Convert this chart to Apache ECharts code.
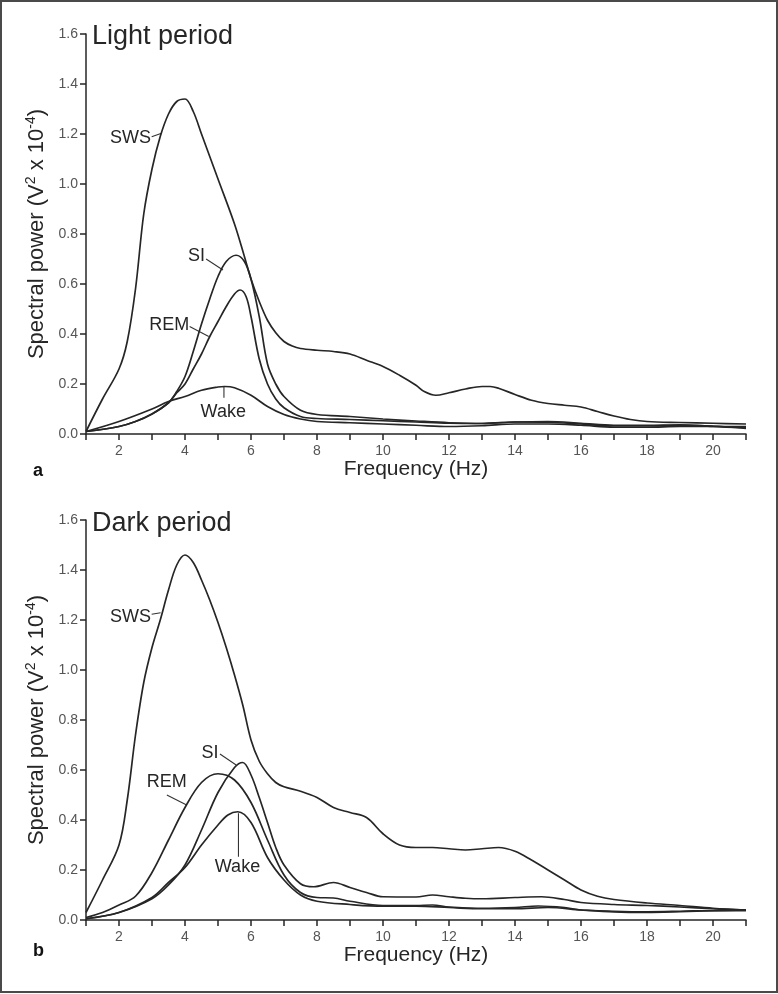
<!DOCTYPE html>
<html><head><meta charset="utf-8">
<script src="https://cdn.jsdelivr.net/npm/echarts/dist/echarts.min.js"></script>
<style>html,body{margin:0;padding:0;background:#fff}#c{width:778px;height:994px}</style>
</head><body><div id="c"></div>
<script>
// ---------- DATA (frequency in Hz, spectral power in V^2 x 10^-4) ----------
const xTicksShown = [2, 4, 6, 8, 10, 12, 14, 16, 18, 20];
const yTicks = [0.0, 0.2, 0.4, 0.6, 0.8, 1.0, 1.2, 1.4, 1.6];
const panelTitles = ['Light period', 'Dark period'];
const panelLetters = ['a', 'b'];
const stateNames = ['SWS', 'SI', 'REM', 'Wake'];

// Light period
const lightSWS_x = [1, 1.5, 2, 2.25, 2.5, 2.75, 3, 3.25, 3.5, 3.75, 4, 4.25, 4.5, 4.75, 5, 5.5, 5.8, 6, 6.25, 6.5, 6.75, 7, 7.25, 7.5, 8, 8.5, 9, 9.5, 10, 10.5, 11, 11.25, 11.6, 12, 12.5, 13, 13.25, 13.5, 14, 14.5, 15, 15.5, 16, 16.5, 17, 17.5, 18, 19, 20, 21];
const lightSWS_y = [0.01, 0.14, 0.26, 0.37, 0.58, 0.88, 1.06, 1.19, 1.28, 1.33, 1.34, 1.29, 1.2, 1.11, 1.02, 0.84, 0.71, 0.62, 0.53, 0.455, 0.405, 0.37, 0.352, 0.342, 0.335, 0.33, 0.32, 0.295, 0.27, 0.235, 0.195, 0.17, 0.155, 0.165, 0.18, 0.19, 0.19, 0.183, 0.158, 0.135, 0.122, 0.115, 0.108, 0.09, 0.072, 0.058, 0.05, 0.046, 0.043, 0.04];
const lightSI_x = [1, 2, 2.5, 3, 3.5, 3.75, 4, 4.25, 4.5, 4.75, 5, 5.25, 5.55, 5.8, 6, 6.25, 6.5, 6.75, 7, 7.5, 8, 9, 10, 11, 12, 13, 14, 15, 16, 17, 18, 19, 20, 21];
const lightSI_y = [0.01, 0.03, 0.05, 0.08, 0.125, 0.17, 0.23, 0.33, 0.44, 0.54, 0.63, 0.69, 0.715, 0.69, 0.62, 0.47, 0.28, 0.2, 0.15, 0.095, 0.078, 0.07, 0.06, 0.052, 0.045, 0.042, 0.048, 0.047, 0.04, 0.032, 0.032, 0.035, 0.032, 0.022];
const lightREM_x = [1, 2, 2.5, 3, 3.5, 3.75, 4, 4.25, 4.5, 4.75, 5, 5.25, 5.5, 5.67, 5.85, 6, 6.25, 6.5, 6.75, 7, 7.5, 8, 9, 10, 11, 12, 13, 14, 15, 16, 17, 18, 19, 20, 21];
const lightREM_y = [0.01, 0.03, 0.05, 0.08, 0.125, 0.165, 0.2, 0.26, 0.32, 0.39, 0.45, 0.51, 0.56, 0.576, 0.55, 0.47, 0.3, 0.2, 0.14, 0.105, 0.07, 0.062, 0.058, 0.053, 0.048, 0.043, 0.042, 0.048, 0.05, 0.043, 0.035, 0.035, 0.037, 0.03, 0.025];
const lightWake_x = [1, 2, 3, 3.5, 4, 4.5, 5, 5.2, 5.5, 6, 6.5, 7, 7.5, 8, 9, 10, 11, 12, 13, 14, 15, 16, 17, 18, 19, 20, 21];
const lightWake_y = [0.01, 0.05, 0.1, 0.13, 0.15, 0.175, 0.188, 0.19, 0.185, 0.155, 0.11, 0.078, 0.06, 0.05, 0.045, 0.04, 0.035, 0.03, 0.033, 0.04, 0.04, 0.035, 0.027, 0.027, 0.03, 0.03, 0.03];

// Dark period
const darkSWS_x = [1, 1.5, 2, 2.25, 2.5, 2.75, 3, 3.25, 3.5, 3.75, 4, 4.25, 4.5, 4.75, 5, 5.25, 5.5, 5.75, 6, 6.25, 6.5, 6.75, 7, 7.5, 8, 8.5, 9, 9.5, 10, 10.5, 11, 11.5, 12, 12.5, 13, 13.5, 14, 14.5, 15, 15.5, 16, 16.5, 17, 18, 19, 20, 21];
const darkSWS_y = [0.03, 0.16, 0.3, 0.48, 0.74, 0.95, 1.09, 1.2, 1.32, 1.42, 1.46, 1.43, 1.36, 1.28, 1.19, 1.09, 0.98, 0.86, 0.72, 0.635, 0.585, 0.55, 0.533, 0.515, 0.49, 0.45, 0.43, 0.41, 0.345, 0.3, 0.29, 0.29, 0.285, 0.28, 0.285, 0.29, 0.275, 0.24, 0.2, 0.16, 0.12, 0.095, 0.082, 0.068, 0.058, 0.047, 0.04];
const darkSI_x = [1, 2, 3, 3.5, 4, 4.5, 5, 5.5, 5.75, 6, 6.25, 6.5, 6.75, 7, 7.5, 7.9, 8.5, 9, 9.5, 10, 11, 11.5, 12, 12.5, 13, 14, 14.8, 15.5, 16, 17, 18, 19, 20, 21];
const darkSI_y = [0.005, 0.03, 0.085, 0.14, 0.22, 0.36, 0.51, 0.61, 0.63, 0.58, 0.49, 0.39, 0.29, 0.22, 0.145, 0.133, 0.15, 0.13, 0.11, 0.093, 0.092, 0.1, 0.093, 0.087, 0.085, 0.09, 0.093, 0.082, 0.07, 0.062, 0.058, 0.052, 0.045, 0.04];
const darkREM_x = [1, 1.5, 2, 2.5, 3, 3.5, 4, 4.5, 5, 5.5, 6, 6.5, 7, 7.5, 8, 8.5, 9, 10, 11, 11.5, 12, 13, 14, 14.7, 15.5, 16, 17, 18, 19, 20, 21];
const darkREM_y = [0.01, 0.03, 0.06, 0.095, 0.19, 0.32, 0.45, 0.55, 0.585, 0.56, 0.47, 0.32, 0.18, 0.11, 0.09, 0.088, 0.075, 0.058, 0.058, 0.06, 0.052, 0.047, 0.05, 0.056, 0.05, 0.04, 0.035, 0.033, 0.035, 0.038, 0.037];
const darkWake_x = [1, 2, 3, 3.5, 4, 4.5, 5, 5.3, 5.6, 6, 6.5, 7, 7.5, 8, 9, 10, 11, 12, 13, 14, 15, 16, 17, 18, 19, 20, 21];
const darkWake_y = [0.005, 0.03, 0.09, 0.15, 0.21, 0.3, 0.38, 0.42, 0.433, 0.39, 0.25, 0.16, 0.1, 0.075, 0.062, 0.055, 0.055, 0.05, 0.045, 0.045, 0.05, 0.04, 0.032, 0.03, 0.033, 0.037, 0.04];

// ---------- chart ----------
const FONT = '"Liberation Sans", Arial, Helvetica, sans-serif';
const INK = '#262626';
const zip = (xs, ys) => xs.map((x, i) => [x, ys[i]]);

const panels = [
  { series: [[lightSWS_x, lightSWS_y], [lightSI_x, lightSI_y], [lightREM_x, lightREM_y], [lightWake_x, lightWake_y]] },
  { series: [[darkSWS_x, darkSWS_y], [darkSI_x, darkSI_y], [darkREM_x, darkREM_y], [darkWake_x, darkWake_y]] }
];

// label annotations in data coordinates: [panel, text, anchor, align, leader start, leader end]
const annotations = [
  [0, 'SWS', [2.97, 1.185], 'right', [2.99, 1.189], [3.29, 1.203]],
  [0, 'SI', [4.35, 0.712], 'center', [4.64, 0.70], [5.15, 0.656]],
  [0, 'REM', [3.52, 0.436], 'center', [4.14, 0.43], [4.72, 0.39]],
  [0, 'Wake', [5.16, 0.089], 'center', [5.18, 0.19], [5.18, 0.145]],
  [1, 'SWS', [2.97, 1.21], 'right', [2.99, 1.223], [3.26, 1.229]],
  [1, 'SI', [4.76, 0.669], 'center', [5.06, 0.664], [5.55, 0.62]],
  [1, 'REM', [3.45, 0.553], 'center', [3.45, 0.50], [4.05, 0.46]],
  [1, 'Wake', [5.59, 0.21], 'center', [5.62, 0.427], [5.62, 0.253]]
];

const gridTops = [34, 520];
const chart = echarts.init(document.getElementById('c'), null, { renderer: 'canvas' });

const option = {
  animation: false,
  backgroundColor: '#fff',
  grid: gridTops.map(t => ({ left: 86, width: 660, top: t, height: 400, containLabel: false })),
  xAxis: gridTops.map((t, i) => ({
    type: 'value', gridIndex: i, min: 1, max: 21, interval: 1,
    axisLine: { show: true, onZero: false, lineStyle: { color: INK, width: 1.5 } },
    axisTick: { show: true, length: 6, lineStyle: { color: INK, width: 1.5 } },
    axisLabel: { color: '#555', fontSize: 14, margin: 10, fontFamily: FONT,
      formatter: v => xTicksShown.indexOf(v) >= 0 ? String(v) : '' },
    splitLine: { show: false },
    name: 'Frequency (Hz)', nameLocation: 'middle', nameGap: 25,
    nameTextStyle: { fontSize: 21, color: INK, fontFamily: FONT }
  })),
  yAxis: gridTops.map((t, i) => ({
    type: 'value', gridIndex: i, min: yTicks[0], max: yTicks[yTicks.length - 1], interval: 0.2,
    axisLine: { show: true, onZero: false, lineStyle: { color: INK, width: 1.5 } },
    axisTick: { show: true, length: 6, lineStyle: { color: INK, width: 1.5 } },
    axisLabel: { color: '#555', fontSize: 14, margin: 8, fontFamily: FONT, formatter: v => v.toFixed(1) },
    splitLine: { show: false },
    name: '{a|Spectral power (V}{s|2}{a| x 10}{s|-4}{a|)}', nameLocation: 'middle', nameGap: 32,
    nameTextStyle: { color: INK, fontFamily: FONT, fontSize: 22,
      rich: { a: { fontSize: 22, color: INK, fontFamily: FONT, lineHeight: 25 },
              s: { fontSize: 14, color: INK, fontFamily: FONT, verticalAlign: 'top', lineHeight: 25 } } }
  })),
  series: []
};
panels.forEach((p, i) => {
  p.series.forEach((xy, k) => {
    option.series.push({
      name: panelTitles[i] + ' ' + stateNames[k],
      type: 'line', xAxisIndex: i, yAxisIndex: i,
      data: zip(xy[0], xy[1]),
      smooth: 0.35, symbol: 'none', silent: true,
      lineStyle: { color: INK, width: 1.7 }
    });
  });
});
chart.setOption(option);

const g = [];
g.push({ type: 'rect', shape: { x: 1, y: 1, width: 776, height: 991 }, style: { fill: 'none', stroke: '#4a4a4a', lineWidth: 2 }, silent: true, z: 100 });
const titleY = [37, 523.5];
const letterY = [471, 951.5];
[0, 1].forEach(i => {
  g.push({ type: 'text', x: 92, y: titleY[i], style: { text: panelTitles[i], fontSize: 27, fontFamily: FONT, fill: INK, align: 'left', verticalAlign: 'middle' } });
  g.push({ type: 'text', x: 33, y: letterY[i], style: { text: panelLetters[i], fontSize: 18, fontWeight: 'bold', fontFamily: FONT, fill: '#111', align: 'left', verticalAlign: 'middle' } });
});
annotations.forEach(a => {
  const [gi, txt, pos, align, l0, l1] = a;
  const p = chart.convertToPixel({ gridIndex: gi }, pos);
  const q0 = chart.convertToPixel({ gridIndex: gi }, l0);
  const q1 = chart.convertToPixel({ gridIndex: gi }, l1);
  g.push({ type: 'text', x: p[0], y: p[1], style: { text: txt, fontSize: 18, fontFamily: FONT, fill: INK, align: align, verticalAlign: 'middle' } });
  g.push({ type: 'line', shape: { x1: q0[0], y1: q0[1], x2: q1[0], y2: q1[1] }, style: { stroke: '#333', lineWidth: 1.1 } });
});
chart.setOption({ graphic: g });
</script></body></html>
